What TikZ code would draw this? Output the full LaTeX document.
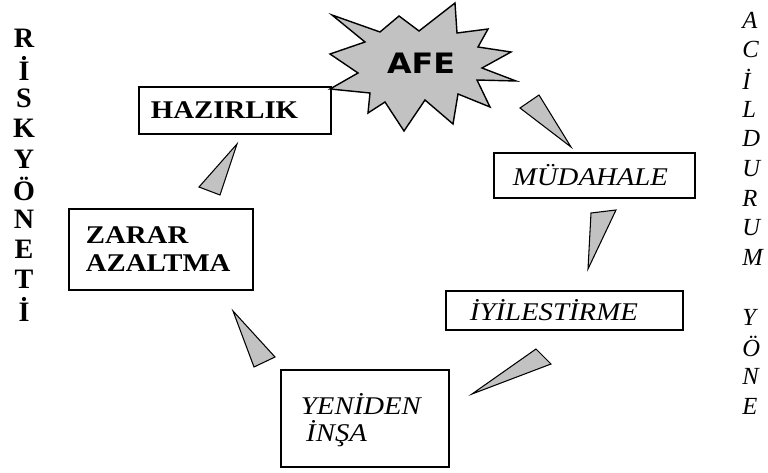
\documentclass[tikz,border=0pt]{standalone}
\usepackage{fontspec}
\setmainfont{Liberation Serif}
\newfontfamily\afefont{DejaVu Sans}
\newcommand\wtxt[1]{\scalebox{1.13}[1]{#1}}

\begin{document}
\begin{tikzpicture}[x=0.02cm, y=-0.02cm,
	kutu/.style={draw, line width=1.1pt, anchor=north west, align=left, inner ysep=0pt},
	kalin/.style={font=\fontsize{14.5}{16}\selectfont\bfseries},
	egik/.style={font=\fontsize{14.5}{15}\selectfont\itshape},
	harf/.style={inner sep=0pt},
	ok/.style={draw, fill=black!24, line width=0.6pt, line join=miter}]
	\useasboundingbox (0,0) rectangle (768,473);
	\fill[white] (0,0) rectangle (768,473);

	\draw[ok, line width=0.8pt] (332,15) -- (380,32) -- (399,16) -- (419,31) -- (455,3) -- (457,33)
		-- (488,29) -- (478,47) -- (511,52) -- (482,68) -- (516,81) -- (477,80) -- (490,107)
		-- (458,94) -- (453,124) -- (425,100) -- (404,131) -- (385,102) -- (368,113) -- (370,93)
		-- (330,89) -- (358,73) -- (330,54) -- (365,42) -- cycle;
	\node [font=\fontsize{16}{16}\selectfont\afefont\bfseries] (afe) at (421,63) {\wtxt{AFE}};

	\node [kutu, kalin, text width=3.36cm, inner xsep=0.24cm, minimum height=0.94cm] (haz) at (138,86) {\wtxt{HAZIRLIK}};
	\node [kutu, kalin, text width=3.0cm, inner xsep=0.34cm, minimum height=1.62cm] (zar) at (68,208) {\wtxt{ZARAR}\\\wtxt{AZALTMA}};
	\node [kutu, egik, text width=3.26cm, inner xsep=0.38cm, minimum height=0.9cm] (mud) at (493,152) {\wtxt{MÜDAHALE}};
	\node [kutu, egik, text width=3.78cm, inner xsep=0.48cm, minimum height=0.78cm] (iyi) at (445,290) {\wtxt{İYİLESTİRME}};
	\node [kutu, egik, text width=2.56cm, inner xsep=0.4cm, minimum height=1.94cm, text depth=16pt] (yen) at (280,369) {\wtxt{YENİDEN}\\\hspace*{3pt}\wtxt{İNŞA}};

	\draw[ok] (237,144) -- (199,187) -- (220,195) -- cycle;
	\draw[ok] (520,108) -- (539,95) -- (571,147) -- cycle;
	\draw[ok] (591,213) -- (616,210) -- (588,269) -- cycle;
	\draw[ok] (472,394) -- (536,349) -- (551,364) -- cycle;
	\draw[ok] (233,311) -- (275,357) -- (254,367) -- cycle;

	\foreach \l [count=\n from 0] in {R,İ,S,K,Y,Ö,N,E,T,İ}
		\node [harf, font=\fontsize{16}{16}\selectfont\bfseries] (r\n) at (24,{38+30.2*\n}) {\l};
	\foreach \l [count=\n from 0] in {A,C,İ,L,D,U,R,U,M}
		\node [harf, anchor=west, font=\fontsize{14}{14}\selectfont\itshape] (a\n) at (742,{20+29.7*\n}) {\l};
	\foreach \l [count=\n from 10] in {Y,Ö,N,E}
		\node [harf, anchor=west, font=\fontsize{14}{14}\selectfont\itshape] (y\n) at (742,{20+29.7*\n}) {\l};
\end{tikzpicture}
\end{document}
